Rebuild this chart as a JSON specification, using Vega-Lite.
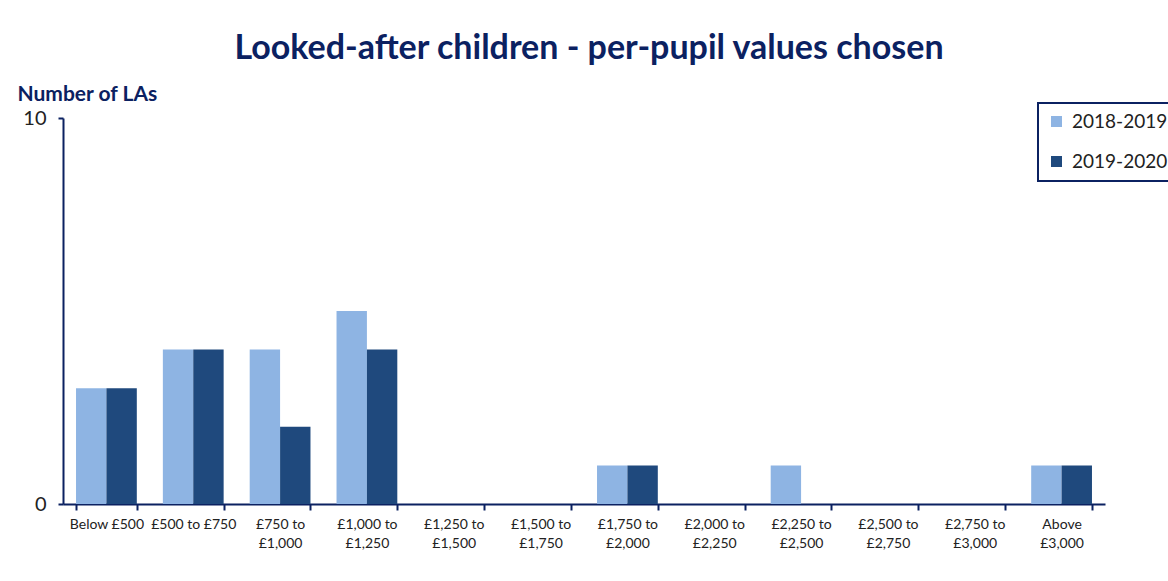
{
  "$schema": "https://vega.github.io/schema/vega-lite/v6.json",
  "autosize": "none",
  "width": 1042,
  "height": 386,
  "padding": {"left": 63, "top": 118, "right": 63, "bottom": 77},
  "background": "white",
  "title": {
    "text": "Looked-after children - per-pupil values chosen",
    "font": "Lato",
    "fontSize": 34,
    "fontWeight": "bold",
    "color": "#0B2161",
    "anchor": "middle",
    "offset": 17,
    "dx": 5
  },
  "data": {
    "values": [
      {"band": "Below £500", "year": "2018-2019", "n": 3},
      {"band": "Below £500", "year": "2019-2020", "n": 3},
      {"band": "£500 to £750", "year": "2018-2019", "n": 4},
      {"band": "£500 to £750", "year": "2019-2020", "n": 4},
      {"band": "£750 to £1,000", "year": "2018-2019", "n": 4},
      {"band": "£750 to £1,000", "year": "2019-2020", "n": 2},
      {"band": "£1,000 to £1,250", "year": "2018-2019", "n": 5},
      {"band": "£1,000 to £1,250", "year": "2019-2020", "n": 4},
      {"band": "£1,250 to £1,500", "year": "2018-2019", "n": 0},
      {"band": "£1,250 to £1,500", "year": "2019-2020", "n": 0},
      {"band": "£1,500 to £1,750", "year": "2018-2019", "n": 0},
      {"band": "£1,500 to £1,750", "year": "2019-2020", "n": 0},
      {"band": "£1,750 to £2,000", "year": "2018-2019", "n": 1},
      {"band": "£1,750 to £2,000", "year": "2019-2020", "n": 1},
      {"band": "£2,000 to £2,250", "year": "2018-2019", "n": 0},
      {"band": "£2,000 to £2,250", "year": "2019-2020", "n": 0},
      {"band": "£2,250 to £2,500", "year": "2018-2019", "n": 1},
      {"band": "£2,250 to £2,500", "year": "2019-2020", "n": 0},
      {"band": "£2,500 to £2,750", "year": "2018-2019", "n": 0},
      {"band": "£2,500 to £2,750", "year": "2019-2020", "n": 0},
      {"band": "£2,750 to £3,000", "year": "2018-2019", "n": 0},
      {"band": "£2,750 to £3,000", "year": "2019-2020", "n": 0},
      {"band": "Above £3,000", "year": "2018-2019", "n": 1},
      {"band": "Above £3,000", "year": "2019-2020", "n": 1}
    ]
  },
  "mark": {"type": "bar"},
  "encoding": {
    "x": {
      "field": "band",
      "type": "nominal",
      "sort": null,
      "scale": {"paddingInner": 0.3, "paddingOuter": 0.15},
      "axis": {
        "title": null,
        "labelAngle": 0,
        "labelFont": "Lato",
        "labelFontSize": 14,
        "labelColor": "#222222",
        "labelPadding": 7,
        "labelLineHeight": 19,
        "labelExpr": "datum.label == '£500 to £750' ? datum.label : split(replace(replace(datum.label, ' to ', ' to|'), 'Above ', 'Above|'), '|')",
        "domainColor": "#0B2161",
        "domainWidth": 2,
        "tickColor": "#0B2161",
        "tickWidth": 2,
        "tickSize": 6,
        "tickBand": "extent",
        "grid": false
      }
    },
    "xOffset": {"field": "year", "type": "nominal", "scale": {"domain": ["2018-2019", "2019-2020"]}},
    "y": {
      "field": "n",
      "type": "quantitative",
      "scale": {"domain": [0, 10]},
      "axis": {
        "values": [0, 10],
        "grid": false,
        "title": "Number of LAs",
        "titleAngle": 0,
        "titleFont": "Lato",
        "titleFontSize": 21,
        "titleFontWeight": "bold",
        "titleColor": "#0B2161",
        "titleAlign": "left",
        "titleBaseline": "middle",
        "titleX": -46,
        "titleY": -24,
        "labelFont": "Lato",
        "labelFontSize": 20,
        "labelColor": "#222222",
        "labelPadding": 12,
        "domainColor": "#0B2161",
        "domainWidth": 2,
        "tickColor": "#0B2161",
        "tickWidth": 2,
        "tickSize": 5
      }
    },
    "color": {
      "field": "year",
      "type": "nominal",
      "scale": {"domain": ["2018-2019", "2019-2020"], "range": ["#8EB4E3", "#1F497D"]},
      "legend": {
        "title": null,
        "orient": "none",
        "legendX": 975,
        "legendY": -15,
        "symbolType": "square",
        "symbolSize": 121,
        "symbolStrokeWidth": 0,
        "labelFont": "Lato",
        "labelFontSize": 19,
        "labelColor": "#222222",
        "labelOffset": 6,
        "rowPadding": 20,
        "padding": 9,
        "strokeColor": "#0B2161"
      }
    }
  },
  "config": {"view": {"stroke": null}, "legend": {"strokeWidth": 2}}
}
